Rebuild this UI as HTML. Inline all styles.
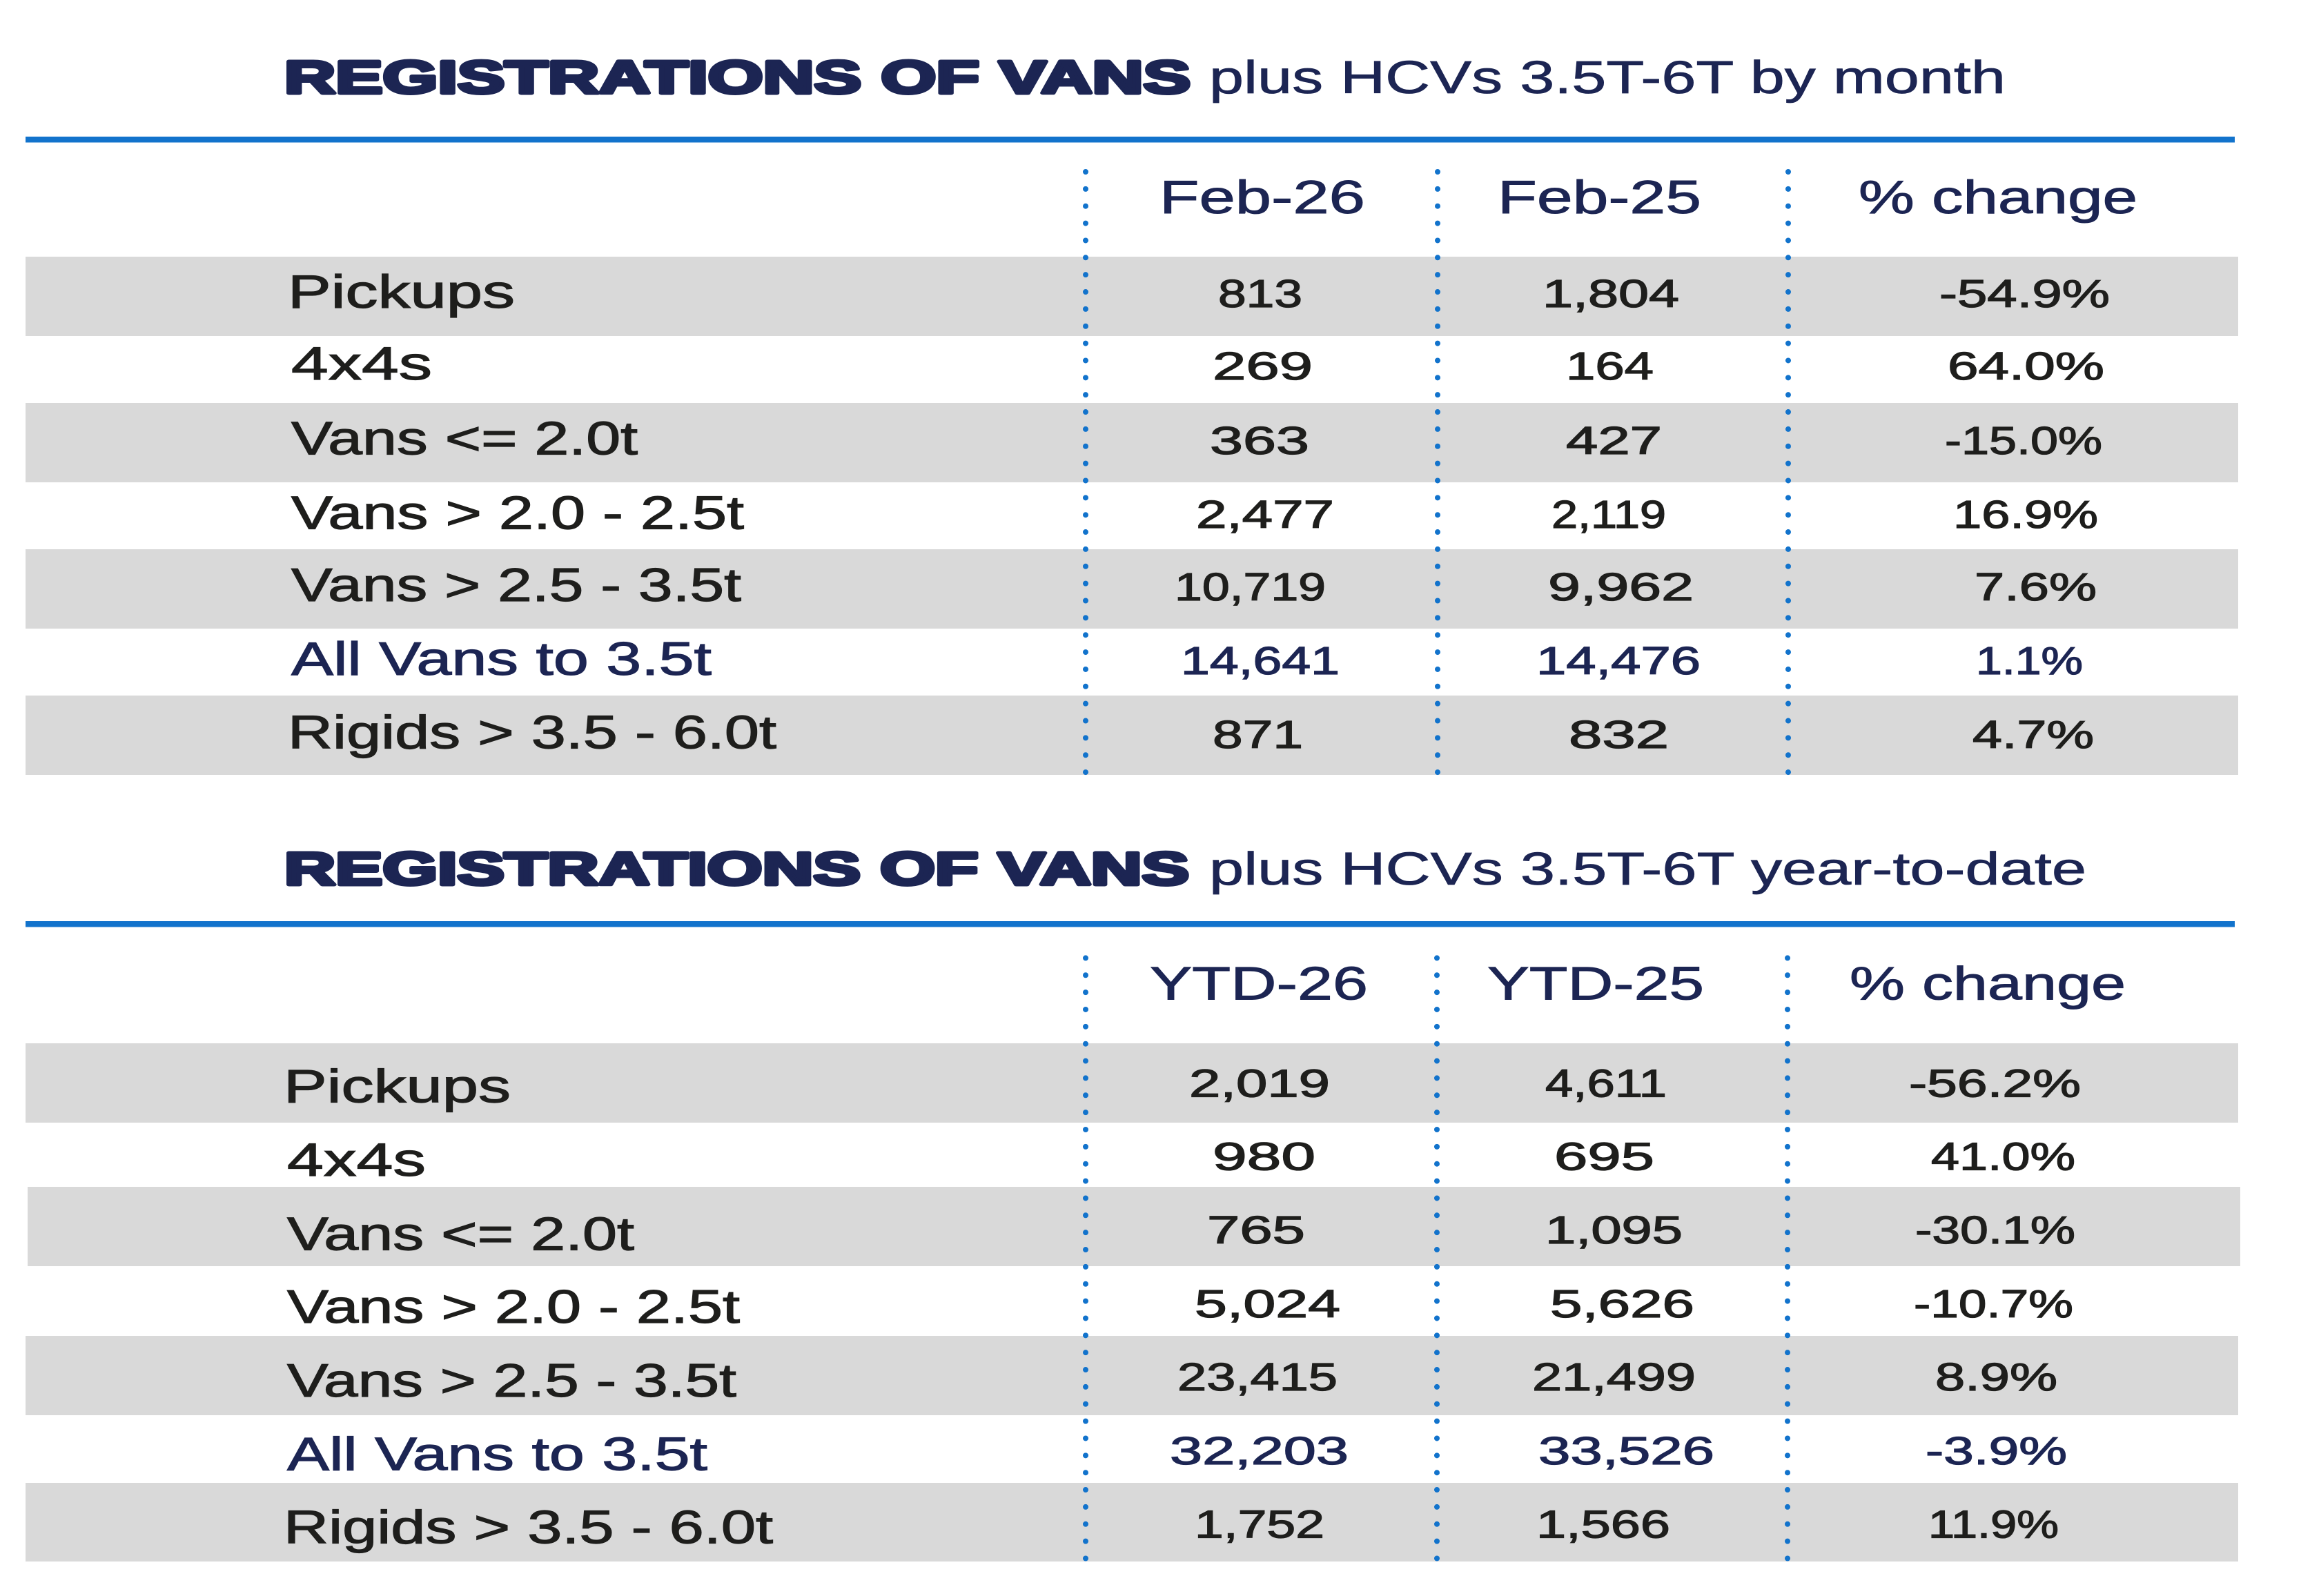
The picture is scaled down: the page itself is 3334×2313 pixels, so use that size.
<!DOCTYPE html>
<html><head><meta charset="utf-8"><style>
html,body{margin:0;padding:0;background:#fff;}
svg{display:block;}
text{font-family:"Liberation Sans",Arial,sans-serif;}
.lb{font-size:68px;fill:#1e1e1c;stroke:#1e1e1c;stroke-width:1.2px;}
.v{font-size:57px;fill:#1e1e1c;stroke:#1e1e1c;stroke-width:1.3px;}
.nv{fill:#1c2553;stroke:#1c2553;}
.h{font-size:68px;fill:#1c2553;stroke:#1c2553;stroke-width:1px;}
.t{font-size:67px;font-weight:bold;fill:#1c2553;stroke:#1c2553;stroke-width:5px;stroke-linejoin:round;}
.s{font-size:67px;fill:#1c2553;stroke:#1c2553;stroke-width:0.8px;}
</style></head><body>
<svg width="3334" height="2313" viewBox="0 0 3334 2313" xmlns="http://www.w3.org/2000/svg">
<rect width="3334" height="2313" fill="#fff"/>

<!-- Table 1 -->
<text class="t" x="412" y="135" textLength="1313" lengthAdjust="spacingAndGlyphs">REGISTRATIONS OF VANS</text>
<text class="s" x="1752" y="135" textLength="1154" lengthAdjust="spacingAndGlyphs">plus HCVs 3.5T-6T by month</text>
<rect x="37" y="198" width="3201" height="8.5" fill="#1273cc"/>

<rect x="37" y="372" width="3206" height="115" fill="#d9d9d9"/>
<rect x="37" y="584" width="3206" height="115" fill="#d9d9d9"/>
<rect x="37" y="796" width="3206" height="115" fill="#d9d9d9"/>
<rect x="37" y="1008" width="3206" height="115" fill="#d9d9d9"/>

<g stroke="#1273cc" stroke-width="8" stroke-linecap="round" stroke-dasharray="0 24.86">
<line x1="1573" y1="249" x2="1573" y2="1120"/>
<line x1="2083" y1="249" x2="2083" y2="1120"/>
<line x1="2591" y1="249" x2="2591" y2="1120"/>
</g>

<text class="h" x="1680" y="309" textLength="298" lengthAdjust="spacingAndGlyphs">Feb-26</text>
<text class="h" x="2170" y="309" textLength="295" lengthAdjust="spacingAndGlyphs">Feb-25</text>
<text class="h" x="2693" y="309" textLength="404" lengthAdjust="spacingAndGlyphs">% change</text>

<text class="lb" x="417" y="446" textLength="329" lengthAdjust="spacingAndGlyphs">Pickups</text>
<text class="lb" x="422" y="550" textLength="204" lengthAdjust="spacingAndGlyphs">4x4s</text>
<text class="lb" x="422" y="658.5" textLength="502" lengthAdjust="spacingAndGlyphs">Vans &lt;= 2.0t</text>
<text class="lb" x="422" y="766.6" textLength="656" lengthAdjust="spacingAndGlyphs">Vans &gt; 2.0 - 2.5t</text>
<text class="lb" x="422" y="871" textLength="652" lengthAdjust="spacingAndGlyphs">Vans &gt; 2.5 - 3.5t</text>
<text class="lb nv" x="422" y="978" textLength="609" lengthAdjust="spacingAndGlyphs">All Vans to 3.5t</text>
<text class="lb" x="417" y="1084.5" textLength="708" lengthAdjust="spacingAndGlyphs">Rigids &gt; 3.5 - 6.0t</text>

<g>
<text class="v" x="1765" y="445" textLength="122" lengthAdjust="spacingAndGlyphs">813</text>
<text class="v" x="2235" y="445" textLength="198" lengthAdjust="spacingAndGlyphs">1,804</text>
<text class="v" x="2810" y="445" textLength="247" lengthAdjust="spacingAndGlyphs">-54.9%</text>

<text class="v" x="1757" y="550" textLength="145" lengthAdjust="spacingAndGlyphs">269</text>
<text class="v" x="2269" y="550" textLength="127" lengthAdjust="spacingAndGlyphs">164</text>
<text class="v" x="2822" y="550" textLength="227" lengthAdjust="spacingAndGlyphs">64.0%</text>

<text class="v" x="1753" y="658" textLength="144" lengthAdjust="spacingAndGlyphs">363</text>
<text class="v" x="2269" y="658" textLength="139" lengthAdjust="spacingAndGlyphs">427</text>
<text class="v" x="2818" y="658" textLength="228" lengthAdjust="spacingAndGlyphs">-15.0%</text>

<text class="v" x="1733" y="765" textLength="200" lengthAdjust="spacingAndGlyphs">2,477</text>
<text class="v" x="2248" y="765" textLength="166" lengthAdjust="spacingAndGlyphs">2,119</text>
<text class="v" x="2830" y="765" textLength="210" lengthAdjust="spacingAndGlyphs">16.9%</text>

<text class="v" x="1702" y="870" textLength="219" lengthAdjust="spacingAndGlyphs">10,719</text>
<text class="v" x="2243" y="870" textLength="211" lengthAdjust="spacingAndGlyphs">9,962</text>
<text class="v" x="2861" y="870" textLength="177" lengthAdjust="spacingAndGlyphs">7.6%</text>

<text class="v nv" x="1711" y="977" textLength="230" lengthAdjust="spacingAndGlyphs">14,641</text>
<text class="v nv" x="2226" y="977" textLength="238" lengthAdjust="spacingAndGlyphs">14,476</text>
<text class="v nv" x="2863" y="977" textLength="155" lengthAdjust="spacingAndGlyphs">1.1%</text>

<text class="v" x="1757" y="1084" textLength="131" lengthAdjust="spacingAndGlyphs">871</text>
<text class="v" x="2273" y="1084" textLength="145" lengthAdjust="spacingAndGlyphs">832</text>
<text class="v" x="2858" y="1084" textLength="176" lengthAdjust="spacingAndGlyphs">4.7%</text>
</g>

<!-- Table 2 -->
<text class="t" x="412" y="1282" textLength="1311" lengthAdjust="spacingAndGlyphs">REGISTRATIONS OF VANS</text>
<text class="s" x="1752" y="1282" textLength="1271" lengthAdjust="spacingAndGlyphs">plus HCVs 3.5T-6T year-to-date</text>
<rect x="37" y="1335" width="3201" height="8.5" fill="#1273cc"/>

<rect x="37" y="1512" width="3206" height="115" fill="#d9d9d9"/>
<rect x="40" y="1720" width="3206" height="115" fill="#d9d9d9"/>
<rect x="37" y="1936" width="3206" height="115" fill="#d9d9d9"/>
<rect x="37" y="2149" width="3206" height="114" fill="#d9d9d9"/>

<g stroke="#1273cc" stroke-width="8" stroke-linecap="round" stroke-dasharray="0 24.86">
<line x1="1573" y1="1388.4" x2="1573" y2="2261"/>
<line x1="2082" y1="1388.4" x2="2082" y2="2261"/>
<line x1="2590" y1="1388.4" x2="2590" y2="2261"/>
</g>

<text class="h" x="1666" y="1448.6" textLength="316" lengthAdjust="spacingAndGlyphs">YTD-26</text>
<text class="h" x="2155" y="1448.6" textLength="314" lengthAdjust="spacingAndGlyphs">YTD-25</text>
<text class="h" x="2680" y="1448.6" textLength="400" lengthAdjust="spacingAndGlyphs">% change</text>

<text class="lb" x="411" y="1597.5" textLength="329" lengthAdjust="spacingAndGlyphs">Pickups</text>
<text class="lb" x="416" y="1704" textLength="201" lengthAdjust="spacingAndGlyphs">4x4s</text>
<text class="lb" x="416" y="1811.6" textLength="503" lengthAdjust="spacingAndGlyphs">Vans &lt;= 2.0t</text>
<text class="lb" x="416" y="1917" textLength="656" lengthAdjust="spacingAndGlyphs">Vans &gt; 2.0 - 2.5t</text>
<text class="lb" x="416" y="2024" textLength="651" lengthAdjust="spacingAndGlyphs">Vans &gt; 2.5 - 3.5t</text>
<text class="lb nv" x="416" y="2130.6" textLength="609" lengthAdjust="spacingAndGlyphs">All Vans to 3.5t</text>
<text class="lb" x="411" y="2236.7" textLength="709" lengthAdjust="spacingAndGlyphs">Rigids &gt; 3.5 - 6.0t</text>

<g>
<text class="v" x="1723" y="1589.5" textLength="204" lengthAdjust="spacingAndGlyphs">2,019</text>
<text class="v" x="2239" y="1589.5" textLength="176" lengthAdjust="spacingAndGlyphs">4,611</text>
<text class="v" x="2766" y="1589.5" textLength="249" lengthAdjust="spacingAndGlyphs">-56.2%</text>

<text class="v" x="1757" y="1695.6" textLength="149" lengthAdjust="spacingAndGlyphs">980</text>
<text class="v" x="2252" y="1695.6" textLength="145" lengthAdjust="spacingAndGlyphs">695</text>
<text class="v" x="2798" y="1695.6" textLength="209" lengthAdjust="spacingAndGlyphs">41.0%</text>

<text class="v" x="1749" y="1802" textLength="142" lengthAdjust="spacingAndGlyphs">765</text>
<text class="v" x="2239" y="1802" textLength="199" lengthAdjust="spacingAndGlyphs">1,095</text>
<text class="v" x="2775" y="1802" textLength="232" lengthAdjust="spacingAndGlyphs">-30.1%</text>

<text class="v" x="1731" y="1909" textLength="211" lengthAdjust="spacingAndGlyphs">5,024</text>
<text class="v" x="2246" y="1909" textLength="209" lengthAdjust="spacingAndGlyphs">5,626</text>
<text class="v" x="2773" y="1909" textLength="231" lengthAdjust="spacingAndGlyphs">-10.7%</text>

<text class="v" x="1706" y="2015" textLength="232" lengthAdjust="spacingAndGlyphs">23,415</text>
<text class="v" x="2220" y="2015" textLength="237" lengthAdjust="spacingAndGlyphs">21,499</text>
<text class="v" x="2804" y="2015" textLength="177" lengthAdjust="spacingAndGlyphs">8.9%</text>

<text class="v nv" x="1695" y="2122" textLength="259" lengthAdjust="spacingAndGlyphs">32,203</text>
<text class="v nv" x="2229" y="2122" textLength="255" lengthAdjust="spacingAndGlyphs">33,526</text>
<text class="v nv" x="2790" y="2122" textLength="205" lengthAdjust="spacingAndGlyphs">-3.9%</text>

<text class="v" x="1731" y="2228.6" textLength="188" lengthAdjust="spacingAndGlyphs">1,752</text>
<text class="v" x="2226" y="2228.6" textLength="194" lengthAdjust="spacingAndGlyphs">1,566</text>
<text class="v" x="2794" y="2228.6" textLength="189" lengthAdjust="spacingAndGlyphs">11.9%</text>
</g>
</svg>
</body></html>
